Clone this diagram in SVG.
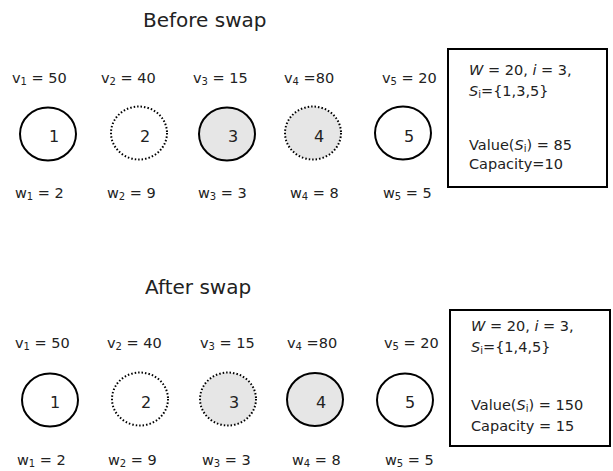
<svg xmlns="http://www.w3.org/2000/svg" width="613" height="471" viewBox="0 0 613 471">
<style>
text{font-family:"DejaVu Sans","Liberation Sans",sans-serif;fill:#222;}
.t{font-size:20px;}
.l{font-size:14.5px;}
.n{font-size:16px;text-anchor:middle;}
.s{font-size:10px;}
.solid{stroke:#000;stroke-width:2;}
.dot{stroke:#000;stroke-width:2;stroke-dasharray:1.5 2;}
.w{fill:#fff;}
.g{fill:#e6e6e6;}
.box{fill:#fff;stroke:#000;stroke-width:2;}
</style>
<text class="t" x="143" y="27">Before swap</text>
<text class="t" x="145" y="294">After swap</text>
<g id="top-labels" class="l">
<text x="12" y="83">v<tspan class="s" dy="2">1</tspan><tspan dy="-2"> = 50</tspan></text>
<text x="101" y="83">v<tspan class="s" dy="2">2</tspan><tspan dy="-2"> = 40</tspan></text>
<text x="193" y="83">v<tspan class="s" dy="2">3</tspan><tspan dy="-2"> = 15</tspan></text>
<text x="284" y="83">v<tspan class="s" dy="2">4</tspan><tspan dy="-2"> =80</tspan></text>
<text x="382" y="83">v<tspan class="s" dy="2">5</tspan><tspan dy="-2"> = 20</tspan></text>
<text x="15" y="198">w<tspan class="s" dy="2">1</tspan><tspan dy="-2"> = 2</tspan></text>
<text x="107" y="198">w<tspan class="s" dy="2">2</tspan><tspan dy="-2"> = 9</tspan></text>
<text x="198" y="198">w<tspan class="s" dy="2">3</tspan><tspan dy="-2"> = 3</tspan></text>
<text x="290" y="198">w<tspan class="s" dy="2">4</tspan><tspan dy="-2"> = 8</tspan></text>
<text x="383" y="198">w<tspan class="s" dy="2">5</tspan><tspan dy="-2"> = 5</tspan></text>
</g>
<g id="b1"><ellipse class="solid w" cx="48" cy="134" rx="28" ry="26.5"/><text class="n" x="54" y="142">1</text></g>
<g id="b2"><ellipse class="dot w" cx="139" cy="133" rx="28" ry="26.5"/><text class="n" x="145" y="142">2</text></g>
<g id="b3"><ellipse class="solid g" cx="227" cy="134" rx="28" ry="26.5"/><text class="n" x="233" y="142">3</text></g>
<g id="b4"><ellipse class="dot g" cx="313" cy="133" rx="28" ry="26.5"/><text class="n" x="319" y="142">4</text></g>
<g id="b5"><ellipse class="solid w" cx="403" cy="133" rx="28" ry="26.5"/><text class="n" x="409" y="142">5</text></g>
<g id="box-before">
<rect class="box" x="448" y="49" width="159" height="138"/>
<text class="l" x="469" y="75"><tspan font-style="italic">W</tspan> = 20, <tspan font-style="italic">i</tspan> = 3,</text>
<text class="l" x="469" y="96"><tspan font-style="italic">S</tspan><tspan class="s" dy="2">i</tspan><tspan dy="-2">={1,3,5}</tspan></text>
<text class="l" x="469" y="150">Value(<tspan font-style="italic">S</tspan><tspan class="s" dy="2">i</tspan><tspan dy="-2">) = 85</tspan></text>
<text class="l" x="469" y="169">Capacity=10</text>
</g>
<g id="bottom-labels" class="l">
<text x="15" y="348">v<tspan class="s" dy="2">1</tspan><tspan dy="-2"> = 50</tspan></text>
<text x="107" y="348">v<tspan class="s" dy="2">2</tspan><tspan dy="-2"> = 40</tspan></text>
<text x="200" y="348">v<tspan class="s" dy="2">3</tspan><tspan dy="-2"> = 15</tspan></text>
<text x="287" y="348">v<tspan class="s" dy="2">4</tspan><tspan dy="-2"> =80</tspan></text>
<text x="384" y="348">v<tspan class="s" dy="2">5</tspan><tspan dy="-2"> = 20</tspan></text>
<text x="17" y="465">w<tspan class="s" dy="2">1</tspan><tspan dy="-2"> = 2</tspan></text>
<text x="108" y="465">w<tspan class="s" dy="2">2</tspan><tspan dy="-2"> = 9</tspan></text>
<text x="202" y="465">w<tspan class="s" dy="2">3</tspan><tspan dy="-2"> = 3</tspan></text>
<text x="292" y="465">w<tspan class="s" dy="2">4</tspan><tspan dy="-2"> = 8</tspan></text>
<text x="385" y="465">w<tspan class="s" dy="2">5</tspan><tspan dy="-2"> = 5</tspan></text>
</g>
<g id="a1"><ellipse class="solid w" cx="50" cy="400" rx="28" ry="26.5"/><text class="n" x="55" y="408">1</text></g>
<g id="a2"><ellipse class="dot w" cx="140" cy="399" rx="28" ry="26.5"/><text class="n" x="146" y="408">2</text></g>
<g id="a3"><ellipse class="dot g" cx="228" cy="399" rx="28" ry="26.5"/><text class="n" x="234" y="408">3</text></g>
<g id="a4"><ellipse class="solid g" cx="315" cy="399.5" rx="28" ry="26.5"/><text class="n" x="321" y="408">4</text></g>
<g id="a5"><ellipse class="solid w" cx="405" cy="400" rx="28" ry="26.5"/><text class="n" x="410" y="408">5</text></g>
<g id="box-after">
<rect class="box" x="450" y="310" width="160" height="136"/>
<text class="l" x="471" y="331"><tspan font-style="italic">W</tspan> = 20, <tspan font-style="italic">i</tspan> = 3,</text>
<text class="l" x="471" y="352"><tspan font-style="italic">S</tspan><tspan class="s" dy="2">i</tspan><tspan dy="-2">={1,4,5}</tspan></text>
<text class="l" x="471" y="410">Value(<tspan font-style="italic">S</tspan><tspan class="s" dy="2">i</tspan><tspan dy="-2">) = 150</tspan></text>
<text class="l" x="471" y="431">Capacity = 15</text>
</g>
<g id="connectors"></g>
</svg>
